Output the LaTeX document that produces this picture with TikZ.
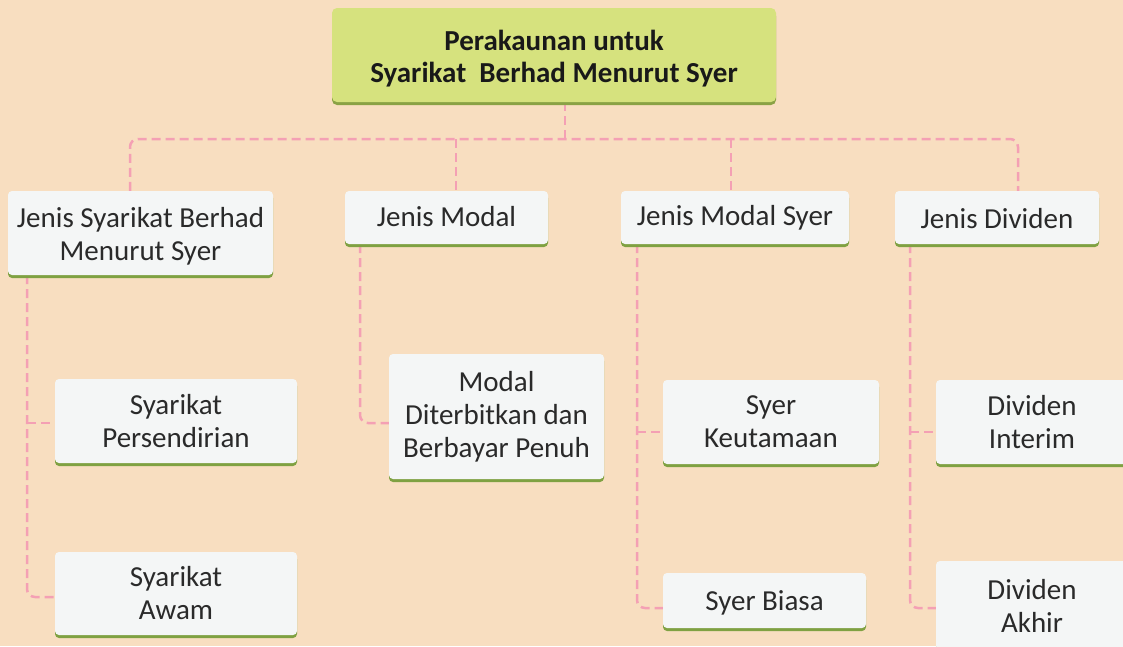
\documentclass[tikz,border=0pt]{standalone}
\usepackage{fontspec}
\setmainfont{Carlito}
\definecolor{bgpeach}{HTML}{F8DEC0}
\definecolor{titlefill}{HTML}{D6E27E}
\definecolor{titleedge}{HTML}{8AA245}
\definecolor{boxfill}{HTML}{F4F6F6}
\definecolor{boxedge}{HTML}{7FA142}
\definecolor{connpink}{HTML}{F4A0B4}
\definecolor{txt}{HTML}{2A2A2A}
\pgfdeclarelayer{bg}
\pgfsetlayers{bg,main}
\newcommand{\shiftdown}[2]{\raisebox{-#1}[\height][\depth]{\begin{tabular}{@{}c@{}}#2\end{tabular}}}
\tikzset{
  x=1pt, y=-1pt,
  box/.style={fill=boxfill, rounded corners=4pt, inner sep=0pt, align=center,
    text=txt, font=\fontsize{29}{33}\selectfont,
    preaction={fill=boxedge, transform canvas={yshift=-3pt}}},
  titlebox/.style={fill=titlefill, rounded corners=5pt, inner sep=0pt, align=center,
    text=black!90, font=\bfseries\fontsize{29}{32}\selectfont,
    preaction={fill=titleedge, transform canvas={yshift=-3pt}}},
  conn/.style={draw=connpink, line width=2.5pt, dash pattern=on 9pt off 5pt, rounded corners=8pt},
}
\newcommand{\boxat}[6]{% name, x1, y1, x2, y2, text
  \node[box, minimum width={#4-#2}, minimum height={#5-#3}] (#1) at ({(#2+#4)/2},{(#3+#5)/2}) {#6};}
\begin{document}
\begin{tikzpicture}
\begin{pgfonlayer}{bg}
\fill[bgpeach] (0,0) rectangle (1123,646);
\end{pgfonlayer}
\useasboundingbox (0,0) rectangle (1123,646);

\node[titlebox, minimum width=444, minimum height=94] (T) at (554,55)
  {\shiftdown{5pt}{Perakaunan untuk\\Syarikat~~Berhad Menurut Syer}};

\boxat{A}{8}{191}{273}{275}{\shiftdown{4pt}{Jenis Syarikat Berhad\\Menurut Syer}}
\boxat{B}{345}{191}{548}{244}{\shiftdown{2pt}{Jenis Modal}}
\boxat{C}{621}{191}{849}{244}{Jenis Modal Syer}
\boxat{D}{895}{191}{1099}{244}{\shiftdown{4pt}{Jenis Dividen}}

\boxat{A1}{55}{379}{297}{463}{\shiftdown{3pt}{Syarikat\\Persendirian}}
\boxat{A2}{55}{552}{297}{635}{Syarikat\\Awam}
\boxat{B1}{389}{354}{604}{479}{Modal\\Diterbitkan dan\\Berbayar Penuh}
\boxat{C1}{663}{380}{879}{464}{Syer\\Keutamaan}
\boxat{C2}{663}{573}{866}{628}{\shiftdown{3pt}{Syer Biasa}}
\boxat{D1}{936}{380}{1128}{464}{Dividen\\Interim}
\boxat{D2}{936}{561}{1128}{650}{Dividen\\Akhir}

\coordinate (bus) at (565,139);
\coordinate (ax) at (130,0);
\coordinate (bx) at (456,0);
\coordinate (cx) at (731,0);
\coordinate (dx) at (1018,0);
\coordinate (lax) at (27,0);
\coordinate (lbx) at (360,0);
\coordinate (lcx) at (637,0);
\coordinate (ldx) at (910,0);
\coordinate (a1y) at (0,423);
\coordinate (a2y) at (0,597);
\coordinate (b1y) at (0,423);
\coordinate (c1y) at (0,432);
\coordinate (c2y) at (0,608);
\coordinate (d1y) at (0,432);
\coordinate (d2y) at (0,608);

\begin{pgfonlayer}{bg}
\draw[conn] (T.south -| bus) -- (bus);
\draw[conn] (A.north -| ax) |- (bus) -| (D.north -| dx);
\draw[conn] (bx |- bus) -- (B.north -| bx);
\draw[conn] (cx |- bus) -- (C.north -| cx);
\draw[conn] (A.south -| lax) |- (A2.west |- a2y);
\draw[conn] (lax |- a1y) -- (A1.west |- a1y);
\draw[conn] (B.south -| lbx) |- (B1.west |- b1y);
\draw[conn] (C.south -| lcx) |- (C2.west |- c2y);
\draw[conn] (lcx |- c1y) -- (C1.west |- c1y);
\draw[conn] (D.south -| ldx) |- (D2.west |- d2y);
\draw[conn] (ldx |- d1y) -- (D1.west |- d1y);
\end{pgfonlayer}
\end{tikzpicture}
\end{document}
